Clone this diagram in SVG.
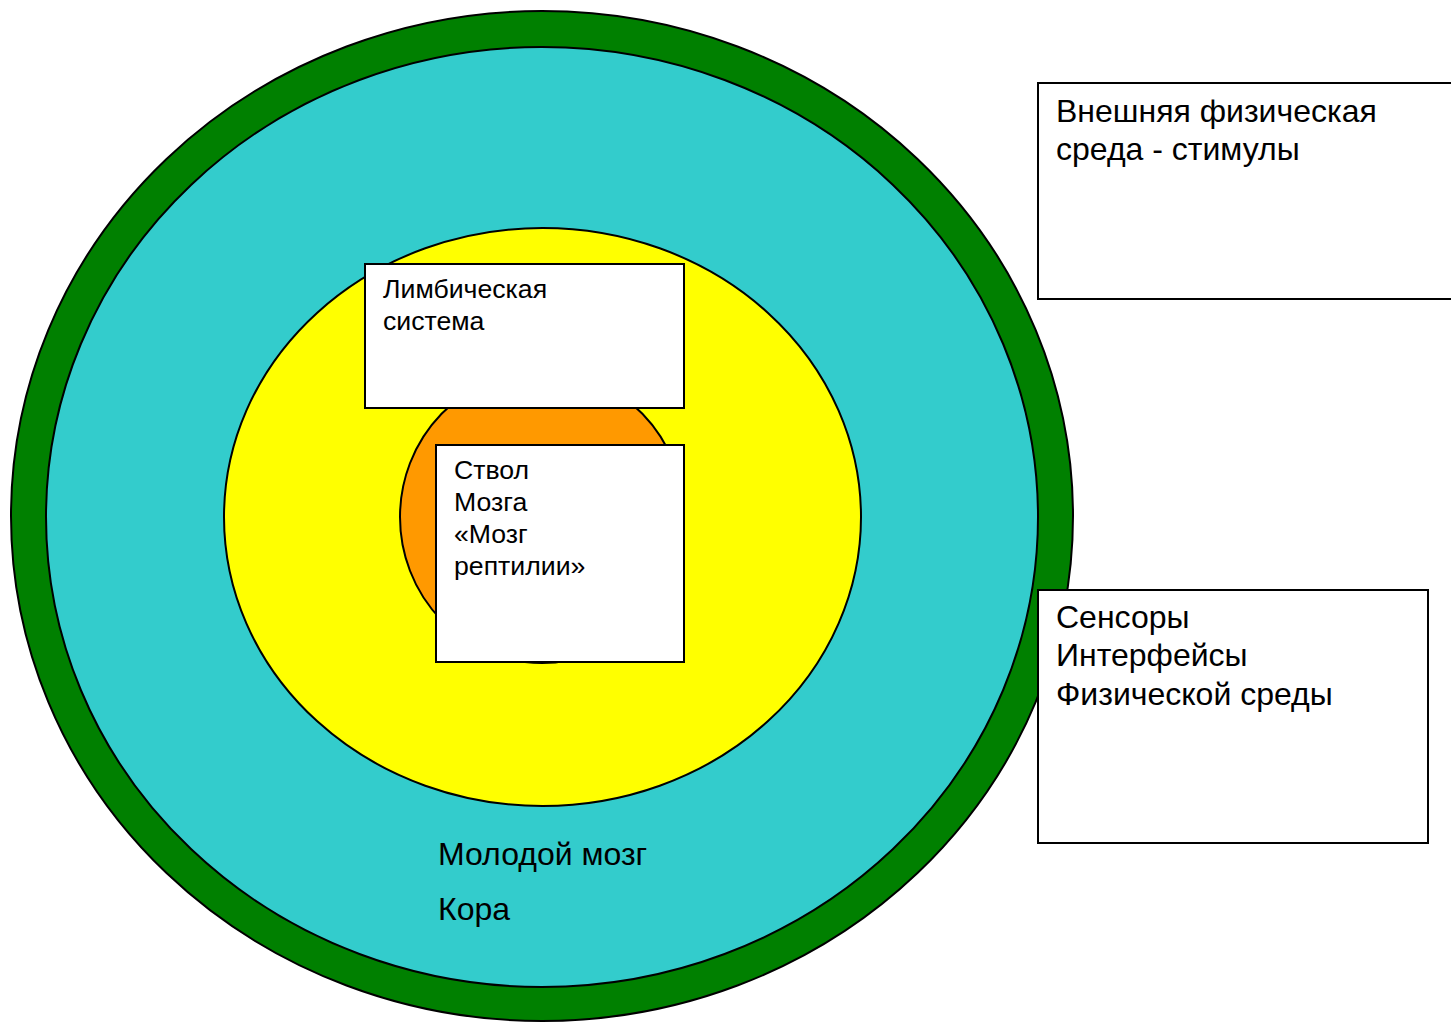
<svg xmlns="http://www.w3.org/2000/svg" width="1451" height="1022" viewBox="0 0 1451 1022">
<style>
.sh{stroke:#000;stroke-width:2}
.box{fill:#fff;stroke:#000;stroke-width:2}
.t{font-family:"Liberation Sans",Arial,sans-serif;fill:#000}
.s{font-size:26.67px}
.l{font-size:32px}
</style>
<rect width="1451" height="1022" fill="#fff"/>
<g id="layers">
<ellipse id="outer" class="sh" cx="542" cy="516" rx="531" ry="505" fill="#008000"/>
<ellipse id="cortex" class="sh" cx="542" cy="517" rx="496" ry="470" fill="#33CCCC"/>
<ellipse id="limbic-area" class="sh" cx="542.5" cy="517" rx="318.5" ry="289" fill="#FFFF00"/>
<ellipse id="stem-area" class="sh" cx="542" cy="517" rx="142" ry="146" fill="#FF9900"/>
</g>
<g id="connectors"></g>
<g id="limbic">
<rect class="box" x="365" y="264" width="319" height="144"/>
<text class="t s" x="383" y="298">Лимбическая</text>
<text class="t s" x="383" y="330">система</text>
</g>
<g id="stem">
<rect class="box" x="436" y="445" width="248" height="217"/>
<text class="t s" x="454" y="479">Ствол</text>
<text class="t s" x="454" y="511">Мозга</text>
<text class="t s" x="454" y="543">«Мозг</text>
<text class="t s" x="454" y="575">рептилии»</text>
</g>
<g id="cortex-label">
<text class="t l" x="438" y="865">Молодой мозг</text>
<text class="t l" x="438" y="920">Кора</text>
</g>
<g id="environment">
<rect class="box" x="1038" y="83" width="420" height="216"/>
<text class="t l" x="1056" y="122">Внешняя физическая</text>
<text class="t l" x="1056" y="160">среда - стимулы</text>
</g>
<g id="sensors">
<rect class="box" x="1038" y="590" width="390" height="253"/>
<text class="t l" x="1056" y="628">Сенсоры</text>
<text class="t l" x="1056" y="666">Интерфейсы</text>
<text class="t l" x="1056" y="705">Физической среды</text>
</g>
</svg>
